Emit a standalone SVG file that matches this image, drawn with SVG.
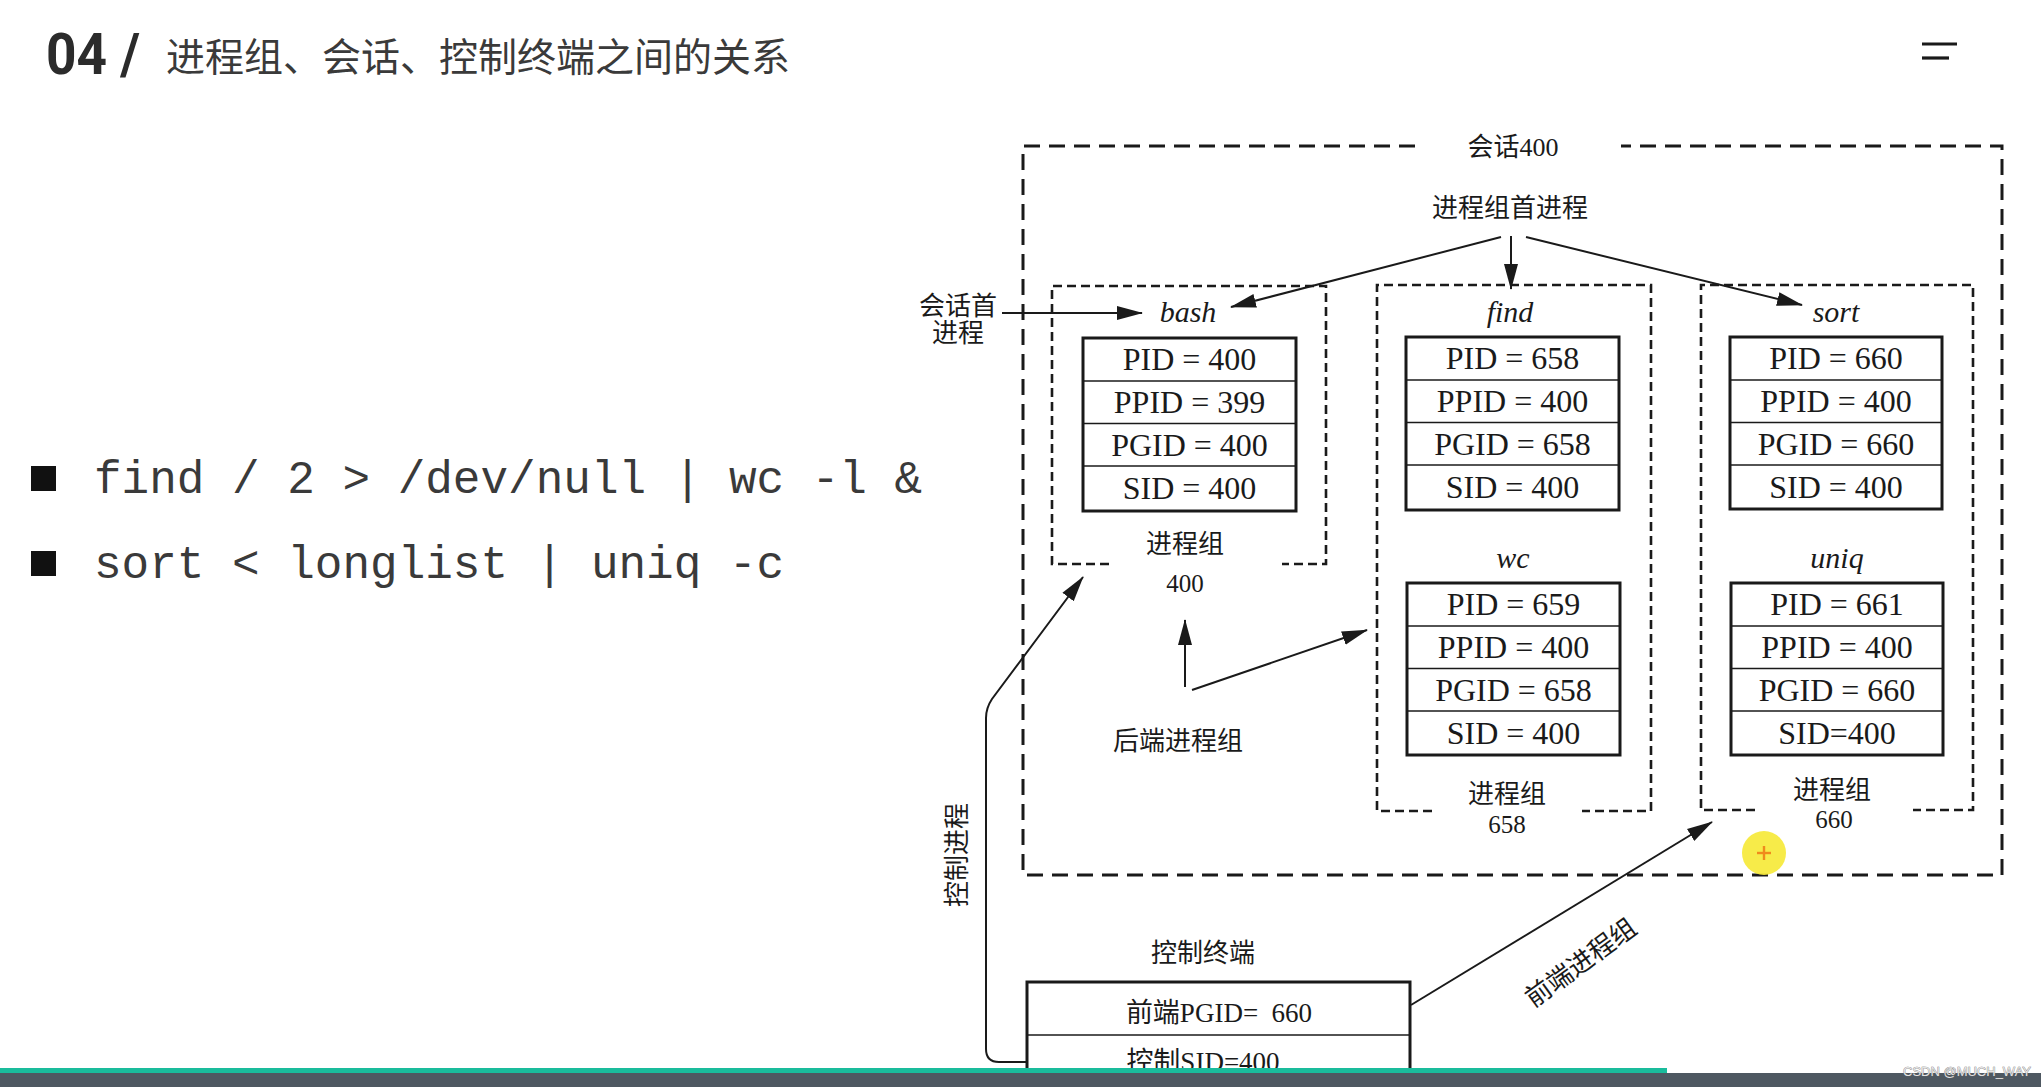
<svg xmlns="http://www.w3.org/2000/svg" width="2041" height="1087" viewBox="0 0 2041 1087">
<defs>
<marker id="ah" markerUnits="userSpaceOnUse" markerWidth="26" markerHeight="16" viewBox="0 0 26 16" refX="25" refY="8" orient="auto">
<path d="M0,1 L26,8 L0,15 z" fill="#1a1a1a"/>
</marker>
<style>
.t { font-family: "Liberation Serif", "Noto Sans CJK SC", serif; fill: #1a1a1a; }
.cjk { font-family: "Noto Sans CJK SC", sans-serif; fill: #1a1a1a; font-size: 26px; text-anchor: middle; }
.cell { font-family: "Liberation Serif", serif; font-size: 32px; text-anchor: middle; fill: #1a1a1a; }
.it { font-family: "Liberation Serif", serif; font-style: italic; font-size: 30px; text-anchor: middle; fill: #1a1a1a; }
.num { font-family: "Liberation Serif", serif; font-size: 25px; text-anchor: middle; fill: #1a1a1a; }
.tbl { fill: none; stroke: #1a1a1a; stroke-width: 3; }
.sep { stroke: #1a1a1a; stroke-width: 1.6; }
.grp { fill: none; stroke: #1a1a1a; stroke-width: 2.6; stroke-dasharray: 9 5; }
.outer { fill: none; stroke: #1a1a1a; stroke-width: 3; stroke-dasharray: 16 9; }
.conn { fill: none; stroke: #1a1a1a; stroke-width: 2; marker-end: url(#ah); }
.code { font-family: "Liberation Mono", monospace; font-size: 46px; fill: #3a3a3a; }
</style>
</defs>
<rect width="2041" height="1087" fill="#ffffff"/>

<g id="title">
<text x="46" y="74" font-family="Roboto, 'Liberation Sans', sans-serif" font-weight="700" font-size="58" fill="#2b2b2b" textLength="94" lengthAdjust="spacingAndGlyphs">04 /</text>
<text x="166" y="71" font-family="'Noto Sans CJK SC', sans-serif" font-size="39" fill="#3a3a3a">进程组、会话、控制终端之间的关系</text>
</g>
<g id="menu-icon" stroke="#1a1a1a" stroke-width="3.2">
<line x1="1922" y1="44" x2="1957" y2="44"/>
<line x1="1922" y1="58" x2="1949" y2="58"/>
</g>

<g id="commands">
<rect x="31" y="466" width="25" height="25" fill="#111"/>
<text class="code" x="94" y="493">find / 2 &gt; /dev/null | wc -l &amp;</text>
<rect x="31" y="551" width="25" height="25" fill="#111"/>
<text class="code" x="94" y="578">sort &lt; longlist | uniq -c</text>
</g>

<g id="session-400">
<path class="outer" d="M1415,146 L1023,146 L1023,875 L2002,875 L2002,146 L1621,146"/>
<text class="t" x="1513" y="156" font-size="26" text-anchor="middle">会话400</text>
</g>

<g id="label-pg-leader">
<text class="cjk" x="1510" y="217">进程组首进程</text>
</g>
<g id="label-session-leader">
<text class="cjk"><tspan x="958" y="315">会话首</tspan><tspan x="958" y="342">进程</tspan></text>
</g>

<g id="group-400">
<path class="grp" d="M1109,564 L1052,564 L1052,286 L1326,286 L1326,564 L1282,564"/>
<text class="cjk" x="1185" y="553">进程组</text>
<text class="num" x="1185" y="592">400</text>
</g>
<g id="node-bash">
<text class="it" x="1188" y="322">bash</text>
<g transform="translate(1083,338)">
<rect class="tbl" x="0" y="0" width="213" height="173"/>
<line class="sep" x1="0" y1="43" x2="213" y2="43"/>
<line class="sep" x1="0" y1="85.5" x2="213" y2="85.5"/>
<line class="sep" x1="0" y1="128" x2="213" y2="128"/>
<text class="cell" x="106.5" y="32">PID = 400</text>
<text class="cell" x="106.5" y="75">PPID = 399</text>
<text class="cell" x="106.5" y="118">PGID = 400</text>
<text class="cell" x="106.5" y="161">SID = 400</text>
</g>
</g>

<g id="group-658">
<path class="grp" d="M1432,811 L1377,811 L1377,285 L1651,285 L1651,811 L1582,811"/>
<text class="cjk" x="1507" y="803">进程组</text>
<text class="num" x="1507" y="833">658</text>
</g>
<g id="node-find">
<text class="it" x="1510" y="322">find</text>
<g transform="translate(1406,337)">
<rect class="tbl" x="0" y="0" width="213" height="173"/>
<line class="sep" x1="0" y1="43" x2="213" y2="43"/>
<line class="sep" x1="0" y1="85.5" x2="213" y2="85.5"/>
<line class="sep" x1="0" y1="128" x2="213" y2="128"/>
<text class="cell" x="106.5" y="32">PID = 658</text>
<text class="cell" x="106.5" y="75">PPID = 400</text>
<text class="cell" x="106.5" y="118">PGID = 658</text>
<text class="cell" x="106.5" y="161">SID = 400</text>
</g>
</g>
<g id="node-wc">
<text class="it" x="1513" y="568">wc</text>
<g transform="translate(1407,583)">
<rect class="tbl" x="0" y="0" width="213" height="172"/>
<line class="sep" x1="0" y1="43" x2="213" y2="43"/>
<line class="sep" x1="0" y1="85.5" x2="213" y2="85.5"/>
<line class="sep" x1="0" y1="128" x2="213" y2="128"/>
<text class="cell" x="106.5" y="32">PID = 659</text>
<text class="cell" x="106.5" y="75">PPID = 400</text>
<text class="cell" x="106.5" y="118">PGID = 658</text>
<text class="cell" x="106.5" y="161">SID = 400</text>
</g>
</g>

<g id="group-660">
<path class="grp" d="M1755,810 L1701,810 L1701,285 L1973,285 L1973,810 L1913,810"/>
<text class="cjk" x="1832" y="799">进程组</text>
<text class="num" x="1834" y="828">660</text>
</g>
<g id="node-sort">
<text class="it" x="1836" y="322">sort</text>
<g transform="translate(1730,337)">
<rect class="tbl" x="0" y="0" width="212" height="172"/>
<line class="sep" x1="0" y1="43" x2="212" y2="43"/>
<line class="sep" x1="0" y1="85.5" x2="212" y2="85.5"/>
<line class="sep" x1="0" y1="128" x2="212" y2="128"/>
<text class="cell" x="106" y="32">PID = 660</text>
<text class="cell" x="106" y="75">PPID = 400</text>
<text class="cell" x="106" y="118">PGID = 660</text>
<text class="cell" x="106" y="161">SID = 400</text>
</g>
</g>
<g id="node-uniq">
<text class="it" x="1837" y="568">uniq</text>
<g transform="translate(1731,583)">
<rect class="tbl" x="0" y="0" width="212" height="172"/>
<line class="sep" x1="0" y1="43" x2="212" y2="43"/>
<line class="sep" x1="0" y1="85.5" x2="212" y2="85.5"/>
<line class="sep" x1="0" y1="128" x2="212" y2="128"/>
<text class="cell" x="106" y="32">PID = 661</text>
<text class="cell" x="106" y="75">PPID = 400</text>
<text class="cell" x="106" y="118">PGID = 660</text>
<text class="cell" x="106" y="161">SID=400</text>
</g>
</g>

<g id="label-background">
<text class="cjk" x="1178" y="750">后端进程组</text>
</g>
<g id="label-control-process">
<text class="cjk" transform="translate(966,855) rotate(-90)">控制进程</text>
</g>
<g id="label-foreground">
<text class="cjk" transform="translate(1586,970) rotate(-36)">前端进程组</text>
</g>

<g id="node-terminal">
<text class="cjk" x="1203" y="962">控制终端</text>
<path class="tbl" d="M1027,1100 L1027,982 L1410,982 L1410,1100"/>
<line class="sep" x1="1027" y1="1035" x2="1410" y2="1035" stroke-width="2"/>
<text class="t" x="1219" y="1022" font-size="27" text-anchor="middle" xml:space="preserve">前端PGID=  660</text>
<text class="t" x="1203" y="1071" font-size="27" text-anchor="middle">控制SID=400</text>
</g>

<g id="connectors">
<path class="conn" d="M1002,313 L1142,313"/>
<path class="conn" d="M1501,237 L1231,307"/>
<path class="conn" d="M1511,236 L1511,289"/>
<path class="conn" d="M1526,237 L1802,305"/>
<path class="conn" d="M1185,687 L1185,620"/>
<path class="conn" d="M1192,690 L1367,630"/>
<path class="conn" d="M1027,1062 L999,1062 Q986,1062 986,1049 L986,718 Q986,708 992,699 L1083,577"/>
<path class="conn" d="M1411,1005 L1712,822"/>
</g>

<g id="cursor">
<circle cx="1764" cy="853" r="22" fill="#f6e93a" opacity="0.92"/>
<g stroke="#f08a1c" stroke-width="2.4">
<line x1="1757" y1="853" x2="1771" y2="853"/>
<line x1="1764" y1="846" x2="1764" y2="860"/>
</g>
</g>

<g id="footer">
<rect x="0" y="1068" width="1667" height="5" fill="#1abc9c"/>
<rect x="0" y="1073" width="2041" height="14" fill="#4e5861"/>
<text x="1903" y="1076" font-family="'Liberation Sans', sans-serif" font-size="13" fill="#e4e4e4" stroke="#666" stroke-width="0.6" paint-order="stroke">CSDN @MUCH_WAY</text>
</g>
</svg>
